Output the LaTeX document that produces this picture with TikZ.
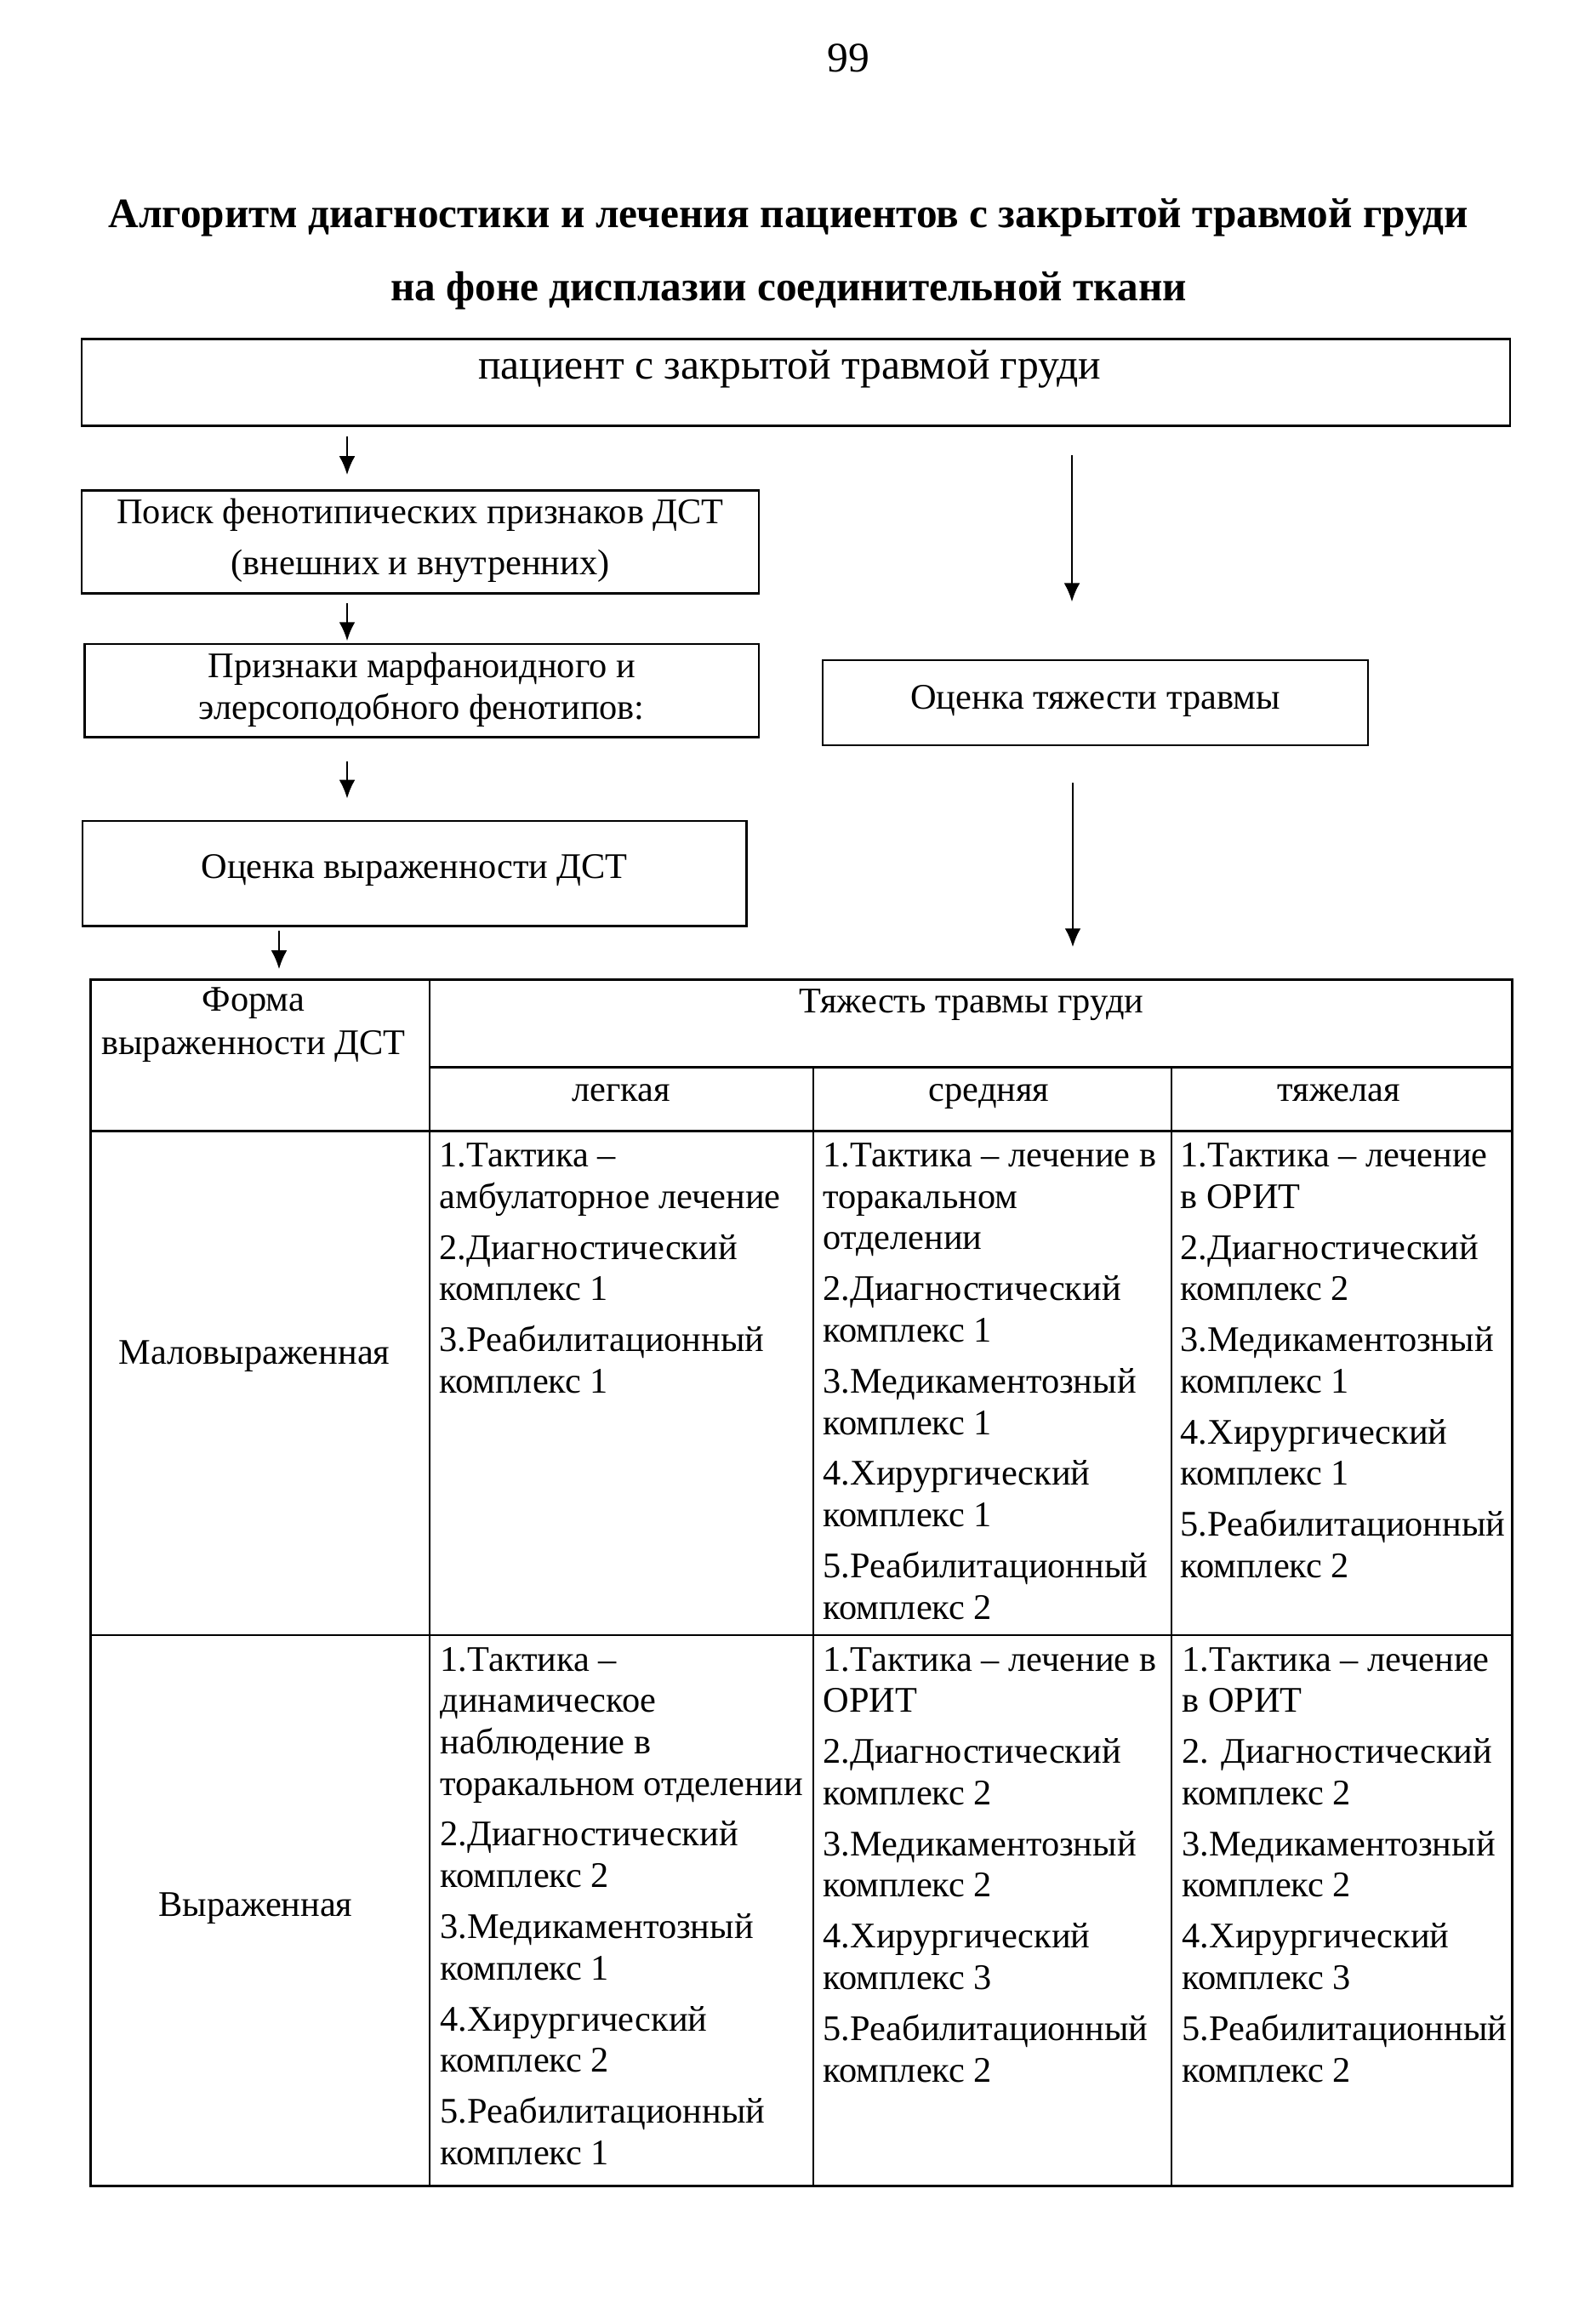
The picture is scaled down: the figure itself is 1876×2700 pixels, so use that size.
\documentclass[tikz,border=0pt]{standalone}
\usepackage{fontspec}
\setmainfont{Liberation Serif}
\usetikzlibrary{arrows.meta,fit}
\begin{document}
\begin{tikzpicture}[x=0.011194cm,y=-0.011194cm,
  every node/.style={font=\fontsize{13.5}{15.5}\selectfont, inner sep=0pt},
  box/.style={draw, line width=0.85pt, inner sep=0pt},
  boxtext/.style={align=center},
  big/.style={font=\fontsize{15.8}{18}\selectfont},
  bigbold/.style={font=\bfseries\fontsize{15.7}{18}\selectfont},
  arr/.style={-{Latex[length=7pt,width=6pt]}, line width=0.8pt},
  cell/.style={anchor=north west, align=left},
  sub/.style={anchor=base},
  grid/.style={line width=0.7pt}]
\useasboundingbox[fill=white] (0,0) rectangle (1876,2700);

% page number and title
\node[big] (pg) at (997,68) {99};
\node[bigbold] (t1) at (927,255.5) {Алгоритм диагностики и лечения пациентов с закрытой травмой груди};
\node[bigbold] (t2) at (927,341.3) {на фоне дисплазии соединительной ткани};

% boxes
\node[box, fit={(96,398.5)(1775,500.5)}] (top) {};
\node[big] (toptext) at (928,434) {пациент с закрытой травмой груди};
\node[box, fit={(96,576.5)(892,697.5)}] (b2) {};
\node[boxtext, font=\fontsize{13.5}{19}\selectfont] (b2t) at ([yshift=0.02cm]b2.center) {Поиск фенотипических признаков ДСТ\\(внешних и внутренних)};
\node[box, fit={(99.5,757)(892,866.5)}] (b3) {};
\node[boxtext, font=\fontsize{13.5}{15.5}\selectfont] (b3t) at ([yshift=0.01cm]b3.center) {Признаки марфаноидного и\\элерсоподобного фенотипов:};
\node[box, fit={(967,776)(1608,876)}] (rb) {};
\node[boxtext] (rbt) at ([yshift=0.02cm]rb.center) {Оценка тяжести травмы};
\node[box, fit={(97,965)(877.5,1088.5)}] (b4) {};
\node[boxtext] (b4t) at ([yshift=0.045cm]b4.center) {Оценка выраженности ДСТ};

% table frame
\node[draw, grid, inner sep=0pt, fit={(106.5,1151.5)(1777.5,2569.5)}] (tbl) {};
\draw[grid] (505,1151.5) -- (505,2569.5);
\draw[grid] (505,1254.5) -- (1777.5,1254.5);
\draw[grid] (106.5,1329.5) -- (1777.5,1329.5);
\draw[grid] (106.5,1922) -- (1777.5,1922);
\draw[grid] (956,1254.5) -- (956,2569.5);
\draw[grid] (1377,1254.5) -- (1377,2569.5);

% arrows
\coordinate (cl) at (408,0);
\coordinate (cl4) at (328,0);
\coordinate (cr) at (1260,0);
\coordinate (cr2) at (1261,0);
\draw[arr, shorten <=0.121cm, shorten >=0.19cm] (top.south -| cl) -- (b2.north -| cl);
\draw[arr, shorten <=0.115cm, shorten >=0.026cm] (b2.south -| cl) -- (b3.north -| cl);
\draw[arr, shorten <=0.299cm, shorten >=0.28cm] (b3.south -| cl) -- (b4.north -| cl);
\draw[arr, shorten <=0.049cm, shorten >=0.126cm] (b4.south -| cl4) -- (tbl.north -| cl4);
\draw[arr, shorten <=0.371cm, shorten >=0.753cm] (top.south -| cr) -- (rb.north -| cr);
\draw[arr, shorten <=0.481cm, shorten >=0.416cm] (rb.south -| cr2) -- (tbl.north -| cr2);

% header
\node[align=center, font=\fontsize{13.5}{16.3}\selectfont] (hform) at (298,1205) {Форма\\выраженности ДСТ};
\node (hsev) at (1142,1181) {Тяжесть травмы груди};
\node[sub] (hl) at (730,1294) {легкая};
\node[sub] (hm) at (1162.5,1294) {средняя};
\node[sub] (hh) at (1574,1294) {тяжелая};

% row labels
\node (r1) at (299,1594) {Маловыраженная};
\node (r2) at (300.5,2243) {Выраженная};

% cells
\node[cell] (c11) at (516,1343) {1.Тактика –\\амбулаторное лечение\\[3.6pt]2.Диагностический\\комплекс 1\\[3.6pt]3.Реабилитационный\\комплекс 1};
\node[cell] (c12) at (967,1343) {1.Тактика – лечение в\\торакальном\\отделении\\[3.6pt]2.Диагностический\\комплекс 1\\[3.6pt]3.Медикаментозный\\комплекс 1\\[3.6pt]4.Хирургический\\комплекс 1\\[3.6pt]5.Реабилитационный\\комплекс 2};
\node[cell] (c13) at (1387,1343) {1.Тактика – лечение\\в ОРИТ\\[3.6pt]2.Диагностический\\комплекс 2\\[3.6pt]3.Медикаментозный\\комплекс 1\\[3.6pt]4.Хирургический\\комплекс 1\\[3.6pt]5.Реабилитационный\\комплекс 2};
\node[cell] (c21) at (517,1935.5) {1.Тактика –\\динамическое\\наблюдение в\\торакальном отделении\\[3.6pt]2.Диагностический\\комплекс 2\\[3.6pt]3.Медикаментозный\\комплекс 1\\[3.6pt]4.Хирургический\\комплекс 2\\[3.6pt]5.Реабилитационный\\комплекс 1};
\node[cell] (c22) at (967,1935.5) {1.Тактика – лечение в\\ОРИТ\\[3.6pt]2.Диагностический\\комплекс 2\\[3.6pt]3.Медикаментозный\\комплекс 2\\[3.6pt]4.Хирургический\\комплекс 3\\[3.6pt]5.Реабилитационный\\комплекс 2};
\node[cell] (c23) at (1389,1935.5) {1.Тактика – лечение\\в ОРИТ\\[3.6pt]2. Диагностический\\комплекс 2\\[3.6pt]3.Медикаментозный\\комплекс 2\\[3.6pt]4.Хирургический\\комплекс 3\\[3.6pt]5.Реабилитационный\\комплекс 2};
\end{tikzpicture}
\end{document}
